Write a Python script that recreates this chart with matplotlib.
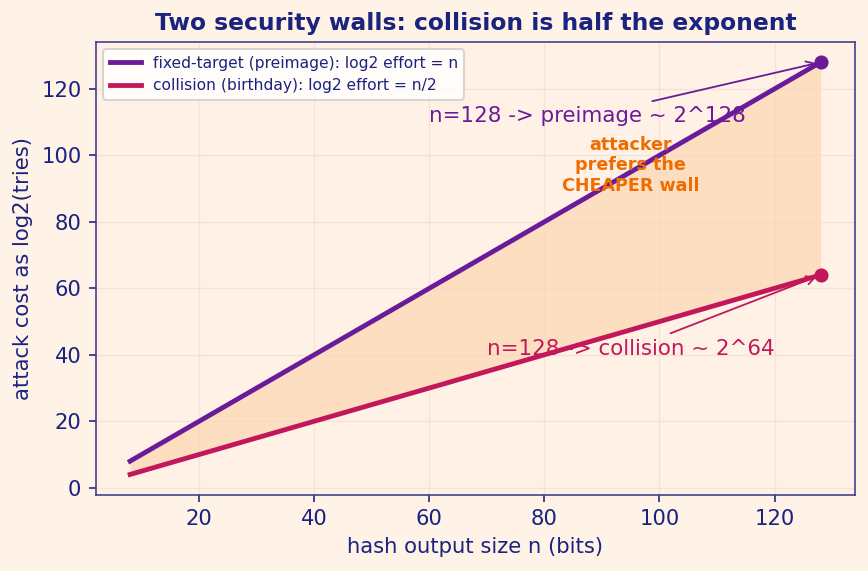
import matplotlib.pyplot as plt

# hash output sizes and attack cost in log2 tries
n_bits = [8, 16, 32, 64, 128]
preimage = [8, 16, 32, 64, 128]
collision = [4, 8, 16, 32, 64]

navy = "#1a237e"
purple = "#6a1b9a"
crimson = "#c2185b"

fig, ax = plt.subplots(figsize=(5.993, 3.938), dpi=145)
fig.patch.set_facecolor("#fff3e8")
ax.set_facecolor("#fff1e6")

ax.fill_between(n_bits, collision, preimage, color="#fbc894", alpha=0.45, lw=0)
ax.plot(n_bits, preimage, color=purple, lw=2.4,
        label="fixed-target (preimage): log2 effort = n")
ax.plot(n_bits, collision, color=crimson, lw=2.4,
        label="collision (birthday): log2 effort = n/2")
ax.plot(n_bits[-1], preimage[-1], "o", color=purple, ms=6)
ax.plot(n_bits[-1], collision[-1], "o", color=crimson, ms=6)

ax.annotate("n=128 -> preimage ~ 2^128", xy=(n_bits[-1], preimage[-1]),
            xytext=(60, 110), color=purple, fontsize=10.6,
            arrowprops=dict(arrowstyle="->", color=purple, lw=0.9))
ax.annotate("n=128 -> collision ~ 2^64", xy=(n_bits[-1], collision[-1]),
            xytext=(70, 40), color=crimson, fontsize=10.6,
            arrowprops=dict(arrowstyle="->", color=crimson, lw=0.9))
ax.text(95, 97, "attacker\nprefers the\nCHEAPER wall", color="#ef6c00",
        fontsize=8.7, fontweight="bold", ha="center", va="center")

ax.set_title("Two security walls: collision is half the exponent",
             color=navy, fontsize=11.6, fontweight="bold")
ax.set_xlabel("hash output size n (bits)", color=navy, fontsize=10.5)
ax.set_ylabel("attack cost as log2(tries)", color=navy, fontsize=10.5)
ax.tick_params(colors=navy, labelsize=10.5)
for s in ax.spines.values():
    s.set_color("#3c3c8c")
ax.grid(True, color="#ead9cc", lw=0.7, alpha=0.5)

leg = ax.legend(loc="upper left", fontsize=7.7, frameon=True)
for t in leg.get_texts():
    t.set_color(navy)

fig.subplots_adjust(left=0.11, right=0.984, top=0.927, bottom=0.133)
plt.savefig("out.png", facecolor=fig.get_facecolor())
